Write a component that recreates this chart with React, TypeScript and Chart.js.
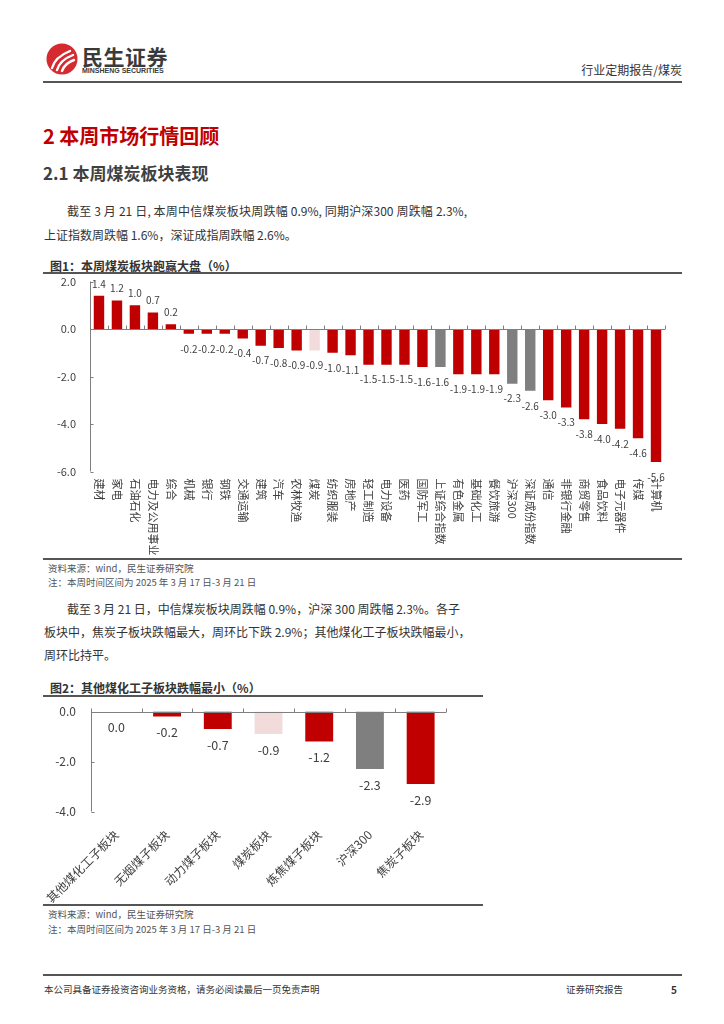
import React, { useEffect, useRef } from 'react';
import { Chart, registerables } from 'chart.js';
Chart.register(...registerables);

const CJK = '"Noto Sans CJK SC", "Noto Sans", sans-serif';
Chart.defaults.font.family = CJK;

// ---------- Figure 1 data ----------
const sectors1 = ['建材', '家电', '石油石化', '电力及公用事业', '综合', '机械', '银行', '钢铁', '交通运输', '建筑', '汽车', '农林牧渔', '煤炭', '纺织服装', '房地产', '轻工制造', '电力设备', '医药', '国防军工', '上证综合指数', '有色金属', '基础化工', '餐饮旅游', '沪深300', '深证成份指数', '通信', '非银行金融', '商贸零售', '食品饮料', '电子元器件', '传媒', '计算机'];
const weekly1 = [1.4, 1.2, 1.0, 0.7, 0.2, -0.2, -0.2, -0.2, -0.4, -0.7, -0.8, -0.9, -0.9, -1.0, -1.1, -1.5, -1.5, -1.5, -1.6, -1.6, -1.9, -1.9, -1.9, -2.3, -2.6, -3.0, -3.3, -3.8, -4.0, -4.2, -4.6, -5.6];
const indexNames1 = ['上证综合指数', '沪深300', '深证成份指数'];
const highlight1 = ['煤炭'];
const yTicks1 = { min: -6, max: 2, step: 2 };

// ---------- Figure 2 data ----------
const sectors2 = ['其他煤化工子板块', '无烟煤子板块', '动力煤子板块', '煤炭板块', '炼焦煤子板块', '沪深300', '焦炭子板块'];
const weekly2 = [0.0, -0.2, -0.7, -0.9, -1.2, -2.3, -2.9];
const indexNames2 = ['沪深300'];
const highlight2 = ['煤炭板块'];
const yTicks2 = { min: -4, max: 0, step: 2 };

const RED = '#C00000';
const GRAY = '#7F7F7F';
const PINK = '#F2DCDB';
const AXIS = '#7F7F7F';
const TXT = '#404040';

function colorsFor(labels: string[], idx: string[], hi: string[]) {
  return labels.map((l) => (idx.includes(l) ? GRAY : hi.includes(l) ? PINK : RED));
}

const decorPlugin = {
  id: 'decor',
  afterDatasetsDraw(chart: any, _args: any, o: any) {
    const { ctx, chartArea: a, scales } = chart;
    const xs = scales.x;
    const ys = scales.y;
    const n = chart.data.labels.length;
    const y0 = Math.round(ys.getPixelForValue(0)) + 0.5;
    ctx.save();
    ctx.strokeStyle = AXIS;
    ctx.lineWidth = 1;
    ctx.beginPath();
    ctx.moveTo(a.left, y0);
    ctx.lineTo(a.right, y0);
    for (let i = 0; i <= n; i++) {
      let px = i === 0 ? a.left : i === n ? a.right : (xs.getPixelForValue(i - 1) + xs.getPixelForValue(i)) / 2;
      px = Math.round(px) + 0.5;
      ctx.moveTo(px, y0);
      ctx.lineTo(px, y0 - 4);
    }
    const ax = Math.round(a.left) + 0.5;
    ctx.moveTo(ax, a.top);
    ctx.lineTo(ax, a.bottom);
    for (const t of ys.ticks) {
      const py = Math.round(ys.getPixelForValue(t.value)) + 0.5;
      ctx.moveTo(ax, py);
      ctx.lineTo(ax + 3, py);
    }
    ctx.stroke();

    // value labels
    ctx.fillStyle = TXT;
    ctx.font = `${o.valSize}px ${CJK}`;
    ctx.textAlign = 'center';
    ctx.textBaseline = 'middle';
    const meta = chart.getDatasetMeta(0);
    const data = chart.data.datasets[0].data;
    meta.data.forEach((bar: any, i: number) => {
      const v = data[i];
      const s = v.toFixed(1);
      if (v > 0) ctx.fillText(s, bar.x, bar.y - o.gapUp);
      else ctx.fillText(s, bar.x, bar.y + o.gapDown);
    });

    // vertical category labels
    if (o.vertical) {
      ctx.font = `${o.labSize}px ${CJK}`;
      ctx.textAlign = 'left';
      ctx.textBaseline = 'middle';
      chart.data.labels.forEach((l: string, i: number) => {
        const px = xs.getPixelForValue(i);
        ctx.save();
        ctx.translate(px, a.bottom + o.labGap);
        ctx.rotate(Math.PI / 2);
        ctx.fillText(l, 0, 0);
        ctx.restore();
      });
    }
    ctx.restore();
  },
};

function Chart1() {
  const ref = useRef<HTMLCanvasElement>(null);
  useEffect(() => {
    const c = new Chart(ref.current!, {
      type: 'bar',
      data: {
        labels: sectors1,
        datasets: [{ data: weekly1, backgroundColor: colorsFor(sectors1, indexNames1, highlight1), borderWidth: 0, barPercentage: 0.58, categoryPercentage: 1 }],
      },
      options: {
        animation: false,
        responsive: false,
        layout: { padding: { top: 5.5, right: 17, bottom: 86.5, left: 0 } },
        plugins: {
          legend: { display: false },
          tooltip: { enabled: false },
          decor: { valSize: 10, gapUp: 12, gapDown: 15, vertical: true, labSize: 11, labGap: 7 },
        } as any,
        scales: {
          x: { display: false },
          y: {
            min: yTicks1.min,
            max: yTicks1.max,
            ticks: { stepSize: yTicks1.step, color: TXT, font: { size: 11 }, padding: 14, callback: (v: any) => Number(v).toFixed(1) },
            grid: { display: false, drawTicks: false },
            border: { display: false },
            afterFit: (s: any) => { s.width = 47; s.paddingTop = 0; s.paddingBottom = 0; },
          },
        },
      },
      plugins: [decorPlugin],
    });
    return () => c.destroy();
  }, []);
  return <canvas ref={ref} width={639} height={282} style={{ position: 'absolute', left: 43, top: 276, width: 639, height: 282 }} />;
}

function Chart2() {
  const ref = useRef<HTMLCanvasElement>(null);
  useEffect(() => {
    const c = new Chart(ref.current!, {
      type: 'bar',
      data: {
        labels: sectors2,
        datasets: [{ data: weekly2, backgroundColor: colorsFor(sectors2, indexNames2, highlight2), borderWidth: 0, barPercentage: 0.55, categoryPercentage: 1 }],
      },
      options: {
        animation: false,
        responsive: false,
        layout: { padding: { top: 12.5, right: 37, bottom: 0, left: 0 } },
        plugins: {
          legend: { display: false },
          tooltip: { enabled: false },
          decor: { valSize: 12.5, gapUp: 12, gapDown: 16, vertical: false },
        } as any,
        scales: {
          x: {
            ticks: { color: TXT, font: { size: 12 }, minRotation: 45, maxRotation: 45, padding: 16, autoSkip: false },
            grid: { display: false, drawTicks: false },
            border: { display: false },
            afterFit: (s: any) => { s.height = 91.5; s.paddingLeft = 0; s.paddingRight = 0; },
          },
          y: {
            min: yTicks2.min,
            max: yTicks2.max,
            ticks: { stepSize: yTicks2.step, color: TXT, font: { size: 12 }, padding: 15, callback: (v: any) => Number(v).toFixed(1) },
            grid: { display: false, drawTicks: false },
            border: { display: false },
            afterFit: (s: any) => { s.width = 48; s.paddingTop = 0; s.paddingBottom = 0; },
          },
        },
      },
      plugins: [decorPlugin],
    });
    return () => c.destroy();
  }, []);
  return <canvas ref={ref} width={440} height={204} style={{ position: 'absolute', left: 43, top: 699, width: 440, height: 204 }} />;
}

function T(props: { x: number; cy: number; size: number; color?: string; bold?: boolean; right?: boolean; children: any; style?: any }) {
  const { x, cy, size, color = '#333', bold, right, children, style } = props;
  const st: any = {
    position: 'absolute',
    top: cy - size / 2,
    fontSize: size,
    lineHeight: `${size}px`,
    color,
    fontWeight: bold ? 700 : 400,
    fontFamily: CJK,
    whiteSpace: 'nowrap',
    ...style,
  };
  if (right) st.right = 724 - x;
  else st.left = x;
  return <div style={st}>{children}</div>;
}

function HLine({ x1, x2, y, w = 1, c = '#606060' }: { x1: number; x2: number; y: number; w?: number; c?: string }) {
  return <div style={{ position: 'absolute', left: x1, top: y - w / 2, width: x2 - x1, height: w, background: c }} />;
}

export default function App() {
  return (
    <div style={{ position: 'absolute', left: 0, top: 0, width: 724, height: 1024, background: '#fff', overflow: 'hidden' }}>
      {/* header */}
      <svg width="32" height="32" viewBox="0 0 32 32" style={{ position: 'absolute', left: 46, top: 43 }}>
        <circle cx="16" cy="16" r="15.5" fill="#D52B30" />
        <path d="M6 25 Q9 14 24 8" stroke="#fff" strokeWidth="2.4" fill="none" strokeLinecap="round" />
        <path d="M11 27 Q14 17 27 12" stroke="#fff" strokeWidth="2.4" fill="none" strokeLinecap="round" />
        <path d="M16 28 Q19 20 28 17" stroke="#fff" strokeWidth="2.4" fill="none" strokeLinecap="round" />
      </svg>
      <T x={82} cy={56.5} size={21} bold color="#3a3a3a" style={{ letterSpacing: 0.5 }}>民生证券</T>
      <T x={82} cy={70.5} size={7} bold color="#3a3a3a" style={{ fontFamily: '"Liberation Sans", Arial, sans-serif', letterSpacing: 0 }}>MINSHENG SECURITIES</T>
      <T x={682} cy={70} size={12} right color="#333">行业定期报告/煤炭</T>
      <HLine x1={43} x2={682} y={82} w={1.5} c="#555" />

      <T x={43} cy={136} size={20} bold color="#C00000">2 本周市场行情回顾</T>
      <T x={43} cy={172.5} size={17} bold color="#404040">2.1 本周煤炭板块表现</T>

      <T x={67} cy={211} size={12} color="#333" style={{ width: 400, textAlign: 'justify', textAlignLast: 'justify', whiteSpace: 'normal' }}>截至 3 月 21 日, 本周中信煤炭板块周跌幅 0.9%, 同期沪深300 周跌幅 2.3%,</T>
      <T x={44} cy={235} size={12} color="#333">上证指数周跌幅 1.6%，深证成指周跌幅 2.6%。</T>

      <T x={50} cy={266} size={12} bold color="#333">图1：本周煤炭板块跑赢大盘（%）</T>
      <HLine x1={43} x2={682} y={273} w={1.2} c="#555" />
      <Chart1 />
      <HLine x1={43} x2={682} y={559} w={1.2} c="#555" />
      <T x={48} cy={569} size={9.5} color="#555">资料来源：wind，民生证券研究院</T>
      <T x={48} cy={583} size={9.5} color="#555">注：本周时间区间为 2025 年 3 月 17 日-3 月 21 日</T>

      <T x={67} cy={609} size={12} color="#333">截至 3 月 21 日，中信煤炭板块周跌幅 0.9%，沪深 300 周跌幅 2.3%。各子</T>
      <T x={44} cy={632} size={12} color="#333">板块中，焦炭子板块跌幅最大，周环比下跌 2.9%；其他煤化工子板块跌幅最小，</T>
      <T x={44} cy={655} size={12} color="#333">周环比持平。</T>

      <T x={50} cy={688} size={12} bold color="#333">图2：其他煤化工子板块跌幅最小（%）</T>
      <HLine x1={43} x2={483} y={696} w={1.2} c="#555" />
      <Chart2 />
      <HLine x1={43} x2={483} y={905} w={1.2} c="#555" />
      <T x={48} cy={915} size={9.5} color="#555">资料来源：wind，民生证券研究院</T>
      <T x={48} cy={930} size={9.5} color="#555">注：本周时间区间为 2025 年 3 月 17 日-3 月 21 日</T>

      {/* footer */}
      <HLine x1={43} x2={682} y={975} w={1.5} c="#555" />
      <T x={44} cy={990} size={9.5} color="#333">本公司具备证券投资咨询业务资格，请务必阅读最后一页免责声明</T>
      <T x={566} cy={990} size={9.5} color="#333">证券研究报告</T>
      <T x={671} cy={990} size={10} bold color="#333">5</T>
    </div>
  );
}
